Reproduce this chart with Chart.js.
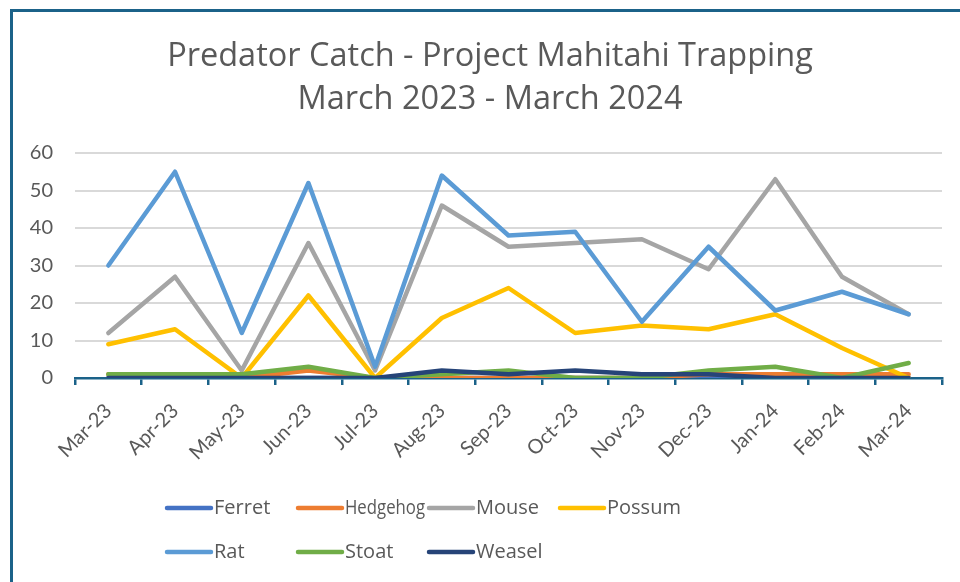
<!DOCTYPE html>
<html>
<head>
<meta charset="utf-8">
<script src="https://cdn.jsdelivr.net/npm/chart.js@4.4.1/dist/chart.umd.min.js"></script>
<style>
html,body{margin:0;padding:0;background:#fff;}
#wrap{position:relative;width:960px;height:582px;}
</style>
</head>
<body>
<div id="wrap"><canvas id="c" width="960" height="582"></canvas></div>
<script>
const categories = ['Mar-23','Apr-23','May-23','Jun-23','Jul-23','Aug-23','Sep-23','Oct-23','Nov-23','Dec-23','Jan-24','Feb-24','Mar-24'];
const seriesNames = ['Ferret','Hedgehog','Mouse','Possum','Rat','Stoat','Weasel'];
const ferret   = [0,0,0,0,0,0,0,0,0,0,0,0,0];
const hedgehog = [1,1,0,2,0,0,0,0,0,1,1,1,1];
const mouse    = [12,27,2,36,2,46,35,36,37,29,53,27,17];
const possum   = [9,13,0,22,0,16,24,12,14,13,17,8,0];
const rat      = [30,55,12,52,3,54,38,39,15,35,18,23,17];
const stoat    = [1,1,1,3,0,1,2,0,0,2,3,0,4];
const weasel   = [0,0,0,0,0,2,1,2,1,1,0,0,0];
const yTicks   = [0,10,20,30,40,50,60];
const titleLines = ['Predator Catch - Project Mahitahi Trapping','March 2023 - March 2024'];

const colors = ['#4472C4','#ED7D31','#A5A5A5','#FFC000','#5B9BD5','#70AD47','#264478'];
const values = [ferret,hedgehog,mouse,possum,rat,stoat,weasel];
const FONT = '"Open Sans", Lato, sans-serif';
const TICKFONT = 'Lato, "Open Sans", sans-serif';
const TEXT = '#595959';
const TEAL = '#1B6289';

const datasets = seriesNames.map((n,i)=>({
  label:n, data:values[i], borderColor:colors[i], backgroundColor:colors[i],
  borderWidth:4.5, pointRadius:0, pointHoverRadius:0, tension:0, fill:false,
  borderCapStyle:'round', borderJoinStyle:'round', order: seriesNames.length - i
}));

const decor = {
  id:'decor',
  afterDraw(chart){
    const ctx = chart.ctx;
    ctx.save();
    // frame
    ctx.strokeStyle = TEAL; ctx.lineWidth = 3;
    ctx.beginPath(); ctx.moveTo(11.5,582); ctx.lineTo(11.5,10.5); ctx.lineTo(960,10.5); ctx.stroke();
    // title
    ctx.fillStyle = TEXT; ctx.font = '32.5px ' + FONT; ctx.textAlign='center'; ctx.textBaseline='middle';
    ctx.fillText(titleLines[0], 490, 57);
    ctx.fillText(titleLines[1], 490, 100);
    // legend grid
    const cols = [167, 298, 429, 560];
    const rows = [508, 552];
    ctx.font = '20px ' + FONT; ctx.textAlign='left';
    chart.data.datasets.forEach((d,i)=>{
      const x = cols[i%4], y = rows[Math.floor(i/4)];
      ctx.strokeStyle = d.borderColor; ctx.lineWidth = 4.5; ctx.lineCap='round';
      ctx.beginPath(); ctx.moveTo(x,y); ctx.lineTo(x+44,y); ctx.stroke();
      ctx.fillStyle = TEXT; ctx.fillText(d.label, x+47, y, 80);
    });
    ctx.restore();
  }
};

new Chart(document.getElementById('c'), {
  type:'line',
  data:{labels:categories, datasets},
  plugins:[decor],
  options:{
    responsive:false, animation:false,
    layout:{padding:{top:153,left:14,right:18,bottom:10}},
    plugins:{legend:{display:false}, title:{display:false}, tooltip:{enabled:false}},
    scales:{
      x:{
        offset:true,
        grid:{offset:true, drawOnChartArea:false, drawTicks:true, tickLength:7, color:TEAL, lineWidth:2.5},
        border:{display:true, color:TEAL, width:2.5},
        ticks:{color:TEXT, font:{family:TICKFONT, size:20}, maxRotation:45, minRotation:45, padding:14, autoSkip:false},
        afterFit(s){ s.height = 582 - 378 - 10; }
      },
      y:{
        min:0, max:60,
        afterBuildTicks(s){ s.ticks = yTicks.map(v=>({value:v})); },
        grid:{color:'#D9D9D9', lineWidth:2, drawTicks:false},
        border:{display:false},
        ticks:{color:TEXT, font:{family:TICKFONT, size:20}, padding:22},
        afterFit(s){ s.width = 75 - 14; }
      }
    }
  }
});
</script>
</body>
</html>
